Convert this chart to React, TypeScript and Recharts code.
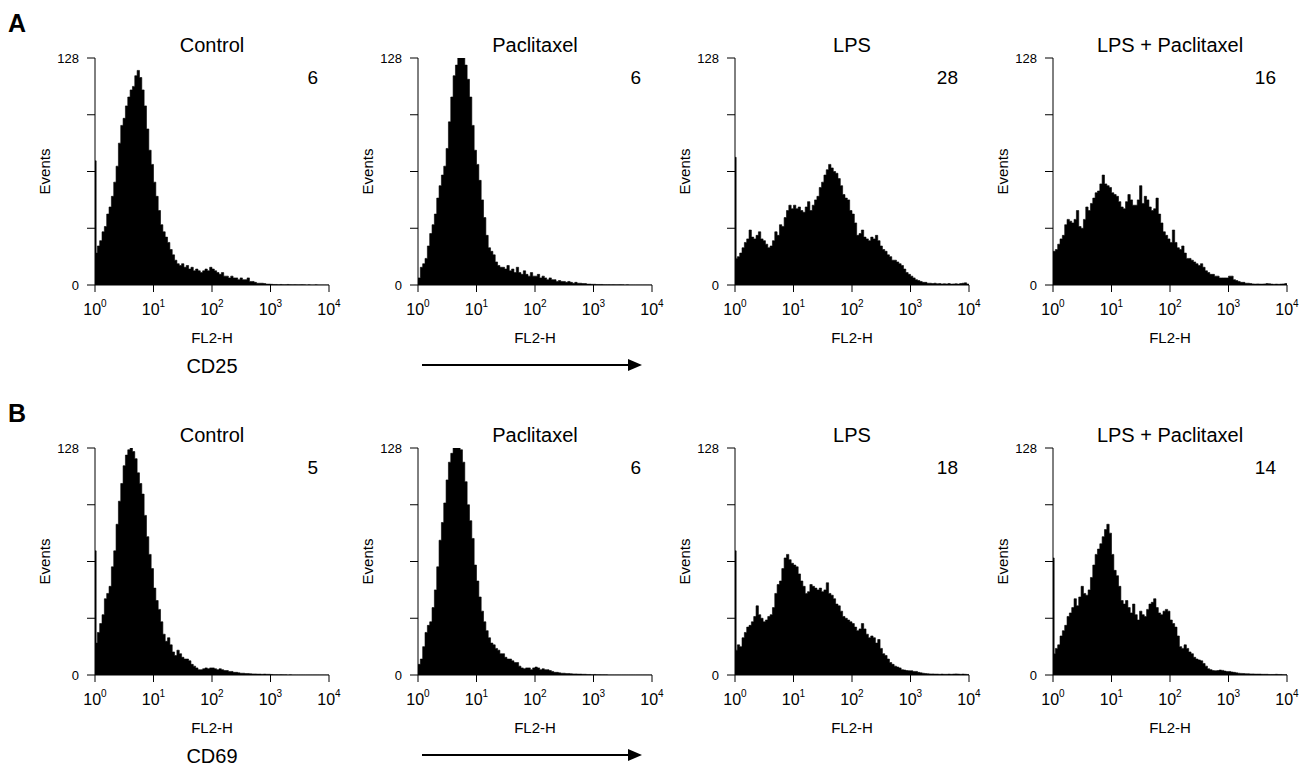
import React from 'react';
import { AreaChart, Area, XAxis, YAxis } from 'recharts';

// ---------- data ----------
const BINS_PER_DECADE = 25;
const decadeTicks = [0, 1, 2, 3, 4];
const decadeExponents = ['0', '1', '2', '3', '4'];
const eventTicks = [0, 32, 64, 96, 128];
const eventTickLabels: Record<number, string> = { 0: '0', 128: '128' };

const panelTitles = ['Control', 'Paclitaxel', 'LPS', 'LPS + Paclitaxel'];
const rowLetters = ['A', 'B'];
const rowMarkers = ['CD25', 'CD69'];
const cd25Percent = [6, 6, 28, 16];
const cd69Percent = [5, 6, 18, 14];
const cd25FirstChannel = [70, 0, 72, 0];
const cd69FirstChannel = [70, 0, 70, 66];
const axisTitleX = 'FL2-H';
const axisTitleY = 'Events';

const cd25Control = [
  18, 22, 25, 30, 33, 40, 44, 50, 58, 67,
  80, 90, 94, 101, 106, 110, 112, 118, 121, 117,
  110, 101, 88, 76, 68, 58, 50, 42, 34, 30,
  27, 24, 20, 17, 14, 12, 11, 12, 10, 11,
  9, 10, 8, 9, 8, 7, 8, 9, 8, 10,
  9, 8, 7, 6, 7, 5, 5, 4, 5, 4,
  4, 3, 4, 3, 3, 4, 2, 2, 1.5, 1,
  1, 1, 0.8, 0.5, 0.5, 0.4, 0.3, 0.3, 0.2, 0.3,
  0.2, 0.2, 0.3, 0.2, 0.1, 0.2, 0.1, 0.1, 0.2, 0.1,
  0, 0.1, 0, 0, 0.1, 0, 0, 0, 0, 0,
];
const cd25Paclitaxel = [
  4, 10, 12, 15, 22, 29, 34, 40, 49, 56,
  62, 67, 77, 92, 106, 118, 124, 128, 128, 128,
  124, 116, 106, 90, 76, 68, 59, 48, 38, 28,
  21, 19, 17, 13, 11, 10, 10, 9, 11, 8,
  9, 7, 10, 7, 6, 8, 6, 5, 7, 5,
  5, 6, 4, 5, 4, 3, 4, 3, 3, 2,
  2.5, 2, 2, 1.5, 2, 1.5, 1, 1.5, 1, 1,
  0.8, 0.8, 0.5, 0.5, 0.4, 0.4, 0.3, 0.3, 0.3, 0.2,
  0.2, 0.2, 0.1, 0.2, 0.1, 0.1, 0.2, 0.1, 0, 0.1,
  0, 0, 0, 0, 0, 0, 0, 0, 0, 0,
];
const cd25Lps = [
  15, 16, 18, 21, 24, 26, 31, 27, 26, 28,
  30, 26, 25, 23, 21, 22, 25, 30, 28, 34,
  33, 38, 42, 45, 43, 45, 43, 44, 42, 41,
  44, 47, 42, 45, 48, 50, 55, 58, 62, 65,
  68, 66, 64, 63, 60, 56, 51, 49, 48, 42,
  40, 35, 28, 29, 31, 27, 26, 25, 27, 26,
  28, 25, 22, 20, 19, 17, 16, 14, 14, 13,
  12, 11, 9, 7, 6, 5, 4, 3, 2.5, 2,
  1.5, 1.5, 1, 1, 0.8, 1, 0.7, 0.8, 0.6, 0.7,
  0.6, 0.8, 0.5, 0.6, 0.7, 0.5, 0.8, 1, 1.2, 0.5,
];
const cd25LpsPaclitaxel = [
  19, 20, 23, 26, 28, 34, 37, 36, 35, 37,
  42, 33, 32, 37, 44, 42, 46, 49, 52, 53,
  57, 62, 57, 56, 55, 52, 51, 50, 47, 44,
  43, 47, 51, 48, 45, 45, 48, 56, 46, 50,
  48, 44, 42, 43, 49, 40, 35, 30, 28, 26,
  24, 31, 24, 21, 20, 22, 18, 15, 15, 14,
  13, 12, 11, 12, 10, 8, 7, 6, 6, 5,
  5, 4, 4, 4, 4, 5, 5, 3, 2.5, 2,
  1.5, 1.5, 1, 1, 0.8, 0.6, 0.5, 0.6, 0.5, 0.5,
  0.6, 0.8, 0.7, 0.5, 0.4, 0.5, 0.4, 0.5, 0.6, 0.8,
];
const cd69Control = [
  18, 24, 29, 34, 43, 46, 50, 61, 70, 85,
  98, 108, 118, 124, 127, 128, 126, 122, 114, 108,
  102, 90, 78, 68, 60, 49, 42, 37, 30, 23,
  19, 21, 17, 13, 11, 14, 12, 10, 9, 9,
  8, 6, 5, 4, 3, 3, 3.5, 4, 3.5, 4,
  4, 3.5, 3, 3.5, 3, 2.5, 2.5, 2, 2, 1.5,
  1.5, 1.2, 1, 1, 0.8, 0.8, 0.7, 0.6, 0.6, 0.5,
  0.5, 0.4, 0.5, 0.4, 0.4, 0.3, 0.2, 0.2, 0.1, 0.2,
  0.1, 0.1, 0, 0.1, 0, 0, 0, 0, 0, 0,
  0, 0, 0, 0, 0, 0, 0, 0, 0, 0,
];
const cd69Paclitaxel = [
  6, 9, 16, 24, 28, 30, 38, 48, 61, 76,
  86, 97, 110, 120, 125, 128, 128, 128, 127, 120,
  109, 96, 87, 77, 62, 53, 44, 36, 30, 25,
  21, 18, 17, 15, 14, 12, 12, 10, 9, 9,
  8, 7, 7, 5, 4, 3.5, 4, 4, 3, 4,
  4.5, 4, 3, 3.5, 3, 3, 2.5, 2, 1.5, 1.5,
  1.2, 1, 1, 0.8, 0.8, 0.7, 0.6, 0.6, 0.5, 0.5,
  0.4, 0.4, 0.3, 0.3, 0.2, 0.3, 0.2, 0.2, 0.1, 0.1,
  0.1, 0, 0, 0, 0, 0, 0, 0, 0, 0,
  0, 0, 0, 0, 0, 0, 0, 0, 0, 0,
];
const cd69Lps = [
  14, 17, 16, 21, 24, 27, 28, 30, 33, 39,
  34, 32, 30, 31, 33, 34, 38, 46, 51, 53,
  60, 66, 68, 65, 63, 62, 61, 57, 53, 50,
  46, 47, 51, 50, 49, 48, 49, 47, 48, 52,
  46, 45, 43, 40, 39, 36, 33, 32, 31, 30,
  29, 27, 25, 26, 29, 26, 23, 21, 22, 21,
  18, 20, 15, 12, 11, 9, 7, 6, 5, 4.5,
  4, 3, 2.8, 2.5, 2.4, 2.4, 2, 2, 1.5, 1.2,
  1, 0.8, 0.7, 0.6, 0.6, 0.5, 0.5, 0.4, 0.5, 0.4,
  0.4, 0.5, 0.4, 0.5, 0.6, 0.5, 0.4, 0.5, 0.4, 0.3,
];
const cd69LpsPaclitaxel = [
  12, 15, 17, 22, 25, 28, 33, 35, 38, 43,
  39, 44, 50, 46, 45, 48, 55, 62, 68, 71,
  74, 78, 82, 85, 80, 68, 59, 56, 50, 42,
  40, 42, 38, 35, 40, 34, 31, 36, 34, 33,
  37, 40, 41, 43, 38, 35, 34, 36, 37, 36,
  31, 29, 27, 22, 16, 15, 17, 15, 13, 12,
  10, 9, 8.5, 8, 6.5, 5, 3.5, 3, 2.5, 2.4,
  2.5, 2.8, 2.6, 2.2, 2, 2, 1.7, 1.5, 1.2, 1,
  0.9, 0.8, 0.7, 0.7, 0.6, 0.6, 0.5, 0.5, 0.5, 0.4,
  0.4, 0.4, 0.3, 0.3, 0.3, 0.4, 0.3, 0.3, 0.2, 0.2,
];

const cd25Series = [cd25Control, cd25Paclitaxel, cd25Lps, cd25LpsPaclitaxel];
const cd69Series = [cd69Control, cd69Paclitaxel, cd69Lps, cd69LpsPaclitaxel];

// ---------- layout ----------
const FONT = '"Liberation Sans", Arial, Helvetica, sans-serif';
const COL_LEFT = [95, 418, 735, 1053];
const ROW_TOP = [58, 448];
const PLOT_W = 234;
const PLOT_H = 227;
const M_LEFT = 60;
const M_TOP = 10;
const M_RIGHT = 20;
const X_AXIS_H = 40;

function buildData(values: number[], spike: number) {
  const pts: { x: number; y: number }[] = [];
  values.forEach((v, i) => {
    if (i === 0 && spike > v) {
      pts.push({ x: 0, y: spike });
      pts.push({ x: 0.02, y: v });
    } else {
      pts.push({ x: i / BINS_PER_DECADE, y: v });
    }
  });
  pts.push({ x: values.length / BINS_PER_DECADE, y: values[values.length - 1] });
  return pts;
}

const XTick = (props: any) => {
  const { x, y, payload } = props;
  const idx = decadeTicks.indexOf(payload.value);
  return (
    <text x={x} y={y + 21} textAnchor="middle" fontFamily={FONT} fontSize={16} fill="#000">
      <tspan>10</tspan>
      <tspan dy={-8} fontSize={10}>{decadeExponents[idx]}</tspan>
    </text>
  );
};

const YTick = (props: any) => {
  const { x, y, payload } = props;
  const label = eventTickLabels[payload.value];
  if (!label) return <g />;
  return (
    <text x={x} y={y} dy={4.5} textAnchor="end" fontFamily={FONT} fontSize={13} fill="#000">
      {label}
    </text>
  );
};

function HistPanel({ values, spike, left, top }: { values: number[]; spike: number; left: number; top: number }) {
  const data = buildData(values, spike);
  return (
    <div style={{ position: 'absolute', left: left - M_LEFT, top: top - M_TOP }}>
      <AreaChart
        width={M_LEFT + PLOT_W + M_RIGHT}
        height={M_TOP + PLOT_H + X_AXIS_H}
        data={data}
        margin={{ top: M_TOP, right: M_RIGHT, bottom: 0, left: 0 }}
      >
        <XAxis
          type="number"
          dataKey="x"
          domain={[0, 4]}
          ticks={decadeTicks}
          interval={0}
          tickSize={7}
          tickMargin={2}
          height={X_AXIS_H}
          stroke="#000"
          tick={<XTick />}
          allowDataOverflow
        />
        <YAxis
          type="number"
          domain={[0, 128]}
          ticks={eventTicks}
          interval={0}
          tickSize={8}
          tickMargin={8}
          width={M_LEFT}
          stroke="#000"
          tick={<YTick />}
          allowDataOverflow
        />
        <Area
          type="stepAfter"
          dataKey="y"
          stroke="#000"
          strokeWidth={0.6}
          fill="#000"
          fillOpacity={1}
          dot={false}
          activeDot={false}
          isAnimationActive={false}
        />
      </AreaChart>
    </div>
  );
}

function Overlay() {
  const rows = [
    { pct: cd25Percent },
    { pct: cd69Percent },
  ];
  return (
    <svg
      width={1310}
      height={769}
      style={{ position: 'absolute', left: 0, top: 0, pointerEvents: 'none' }}
      fontFamily={FONT}
    >
      {rows.map((row, r) => {
        const top = ROW_TOP[r];
        return (
          <g key={r}>
            <text x={8} y={top - 26} fontSize={25} fontWeight="bold" fill="#000">
              {rowLetters[r]}
            </text>
            <text x={COL_LEFT[0] + PLOT_W / 2} y={top + PLOT_H + 88} fontSize={20} textAnchor="middle" fill="#000">
              {rowMarkers[r]}
            </text>
            <line x1={422} x2={630} y1={top + PLOT_H + 80} y2={top + PLOT_H + 80} stroke="#000" strokeWidth={2} />
            <polygon
              points={`628,${top + PLOT_H + 74} 642,${top + PLOT_H + 80} 628,${top + PLOT_H + 86}`}
              fill="#000"
            />
            {COL_LEFT.map((left, c) => (
              <g key={c}>
                <text x={left + PLOT_W / 2} y={top - 6} fontSize={20} textAnchor="middle" fill="#000">
                  {panelTitles[c]}
                </text>
                <text x={left + PLOT_W - 11} y={top + 26} fontSize={19} textAnchor="end" fill="#000">
                  {row.pct[c]}
                </text>
                <text
                  x={left - 45}
                  y={top + PLOT_H / 2}
                  fontSize={15}
                  textAnchor="middle"
                  fill="#000"
                  transform={`rotate(-90 ${left - 45} ${top + PLOT_H / 2})`}
                >
                  {axisTitleY}
                </text>
                <text x={left + PLOT_W / 2} y={top + PLOT_H + 58} fontSize={15} textAnchor="middle" fill="#000">
                  {axisTitleX}
                </text>
              </g>
            ))}
          </g>
        );
      })}
    </svg>
  );
}

export default function App() {
  return (
    <div
      style={{
        position: 'absolute',
        left: 0,
        top: 0,
        width: 1310,
        height: 769,
        background: '#fff',
        overflow: 'hidden',
        fontFamily: FONT,
      }}
    >
      {COL_LEFT.map((left, c) => (
        <HistPanel key={`a${c}`} values={cd25Series[c]} spike={cd25FirstChannel[c]} left={left} top={ROW_TOP[0]} />
      ))}
      {COL_LEFT.map((left, c) => (
        <HistPanel key={`b${c}`} values={cd69Series[c]} spike={cd69FirstChannel[c]} left={left} top={ROW_TOP[1]} />
      ))}
      <Overlay />
    </div>
  );
}
